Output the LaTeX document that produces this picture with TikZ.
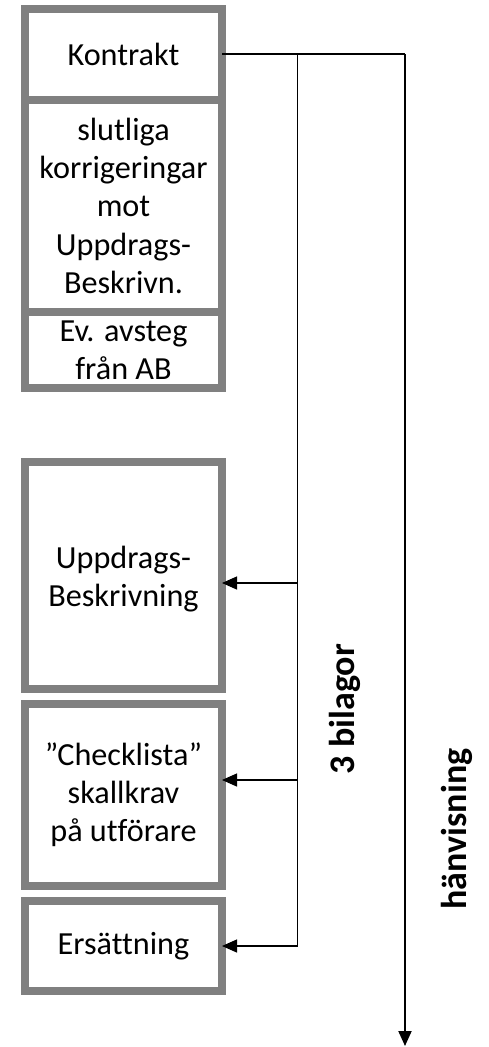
\documentclass[tikz,border=0pt]{standalone}
\usepackage{fontspec}
\setmainfont[Ligatures=NoCommon]{Carlito}
\usetikzlibrary{arrows.meta}
\definecolor{boxgray}{RGB}{128,128,128}
\tikzset{
  box/.style={draw=boxgray, line width=8pt, fill=white, rectangle, inner sep=0pt, outer sep=0pt,
    minimum width=197pt, align=center, font=\fontsize{32.2}{38.3}\selectfont},
  conn/.style={line width=1.3pt, draw=black},
  arr/.style={conn, -{Triangle[length=15pt,width=13pt]}},
  vlabel/.style={rotate=90, font=\fontsize{36}{40}\selectfont\bfseries, inner sep=0pt}
}
\begin{document}
\begin{tikzpicture}[x=1pt,y=-1pt]
\useasboundingbox (0,0) rectangle (489,1047);
\node[box, minimum height=91pt] (K) at (123.5,54) {Kontrakt};
\node[box, minimum height=212.5pt] (S) at (123.5,205.75) {slutliga\\korrigeringar\\mot\\Uppdrags-\\Beskrivn.};
\node[box, minimum height=76pt] (A) at (123.5,350) {Ev. avsteg\\från AB};
\node[box, minimum height=227pt] (U) at (123.5,575.5) {\\[-9pt]Uppdrags-\\Beskrivning};
\node[box, minimum height=181.5pt] (C) at (123.5,794.75) {”Checklista”\\skallkrav\\på utförare};
\node[box, minimum height=90pt] (E) at (123.5,946) {Ersättning};
\coordinate (jt) at (297.5,54);
\coordinate (ju) at (297.5,583);
\coordinate (jc) at (297.5,780);
\coordinate (jb) at (297.5,946);
\coordinate (ht) at (405,54);
\coordinate (hb) at (405,1046);
\draw[conn] (K.east |- jt) -- (ht);
\draw[conn, line cap=rect] (jt) -- (jb);
\draw[arr] (ju) -- (ju -| U.east);
\draw[arr] (jc) -- (jc -| C.east);
\draw[arr] (jb) -- (jb -| E.east);
\draw[conn, line width=2pt, -{Triangle[length=15pt,width=13pt]}] (ht) -- (hb);
\node[vlabel] (bil) at (345,709) {3 bilagor};
\node[vlabel] (hv) at (457,829) {hänvisning};
\end{tikzpicture}
\end{document}
